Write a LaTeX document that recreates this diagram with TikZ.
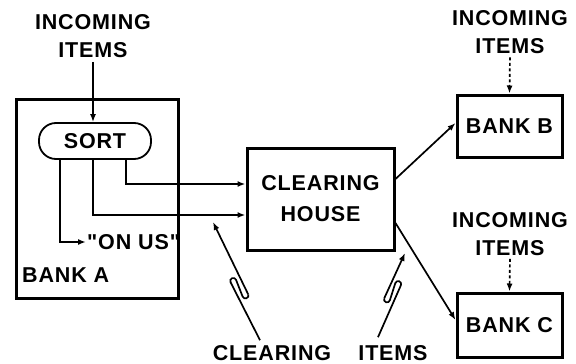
\documentclass[tikz,border=0pt]{standalone}
\usepackage{fontspec}
\setmainfont{Liberation Sans}[LetterSpace=4, Ligatures=TeXOff]
\usetikzlibrary{arrows.meta,calc}
\begin{document}
\begin{tikzpicture}[x=1pt,y=-1pt,
  lbl/.style={font=\bfseries\fontsize{21.5}{28}\selectfont, align=center, inner sep=0pt},
  box/.style={draw, line width=3pt, inner sep=0pt},
  arr/.style={line width=1.7pt, -{Latex[length=8pt,width=6pt]}},
  dasharr/.style={arr, dash pattern=on 3pt off 2.5pt},
  conn/.style={line width=1.7pt}
]
\useasboundingbox (0,0) rectangle (576,364);
% boxes
\node[box, minimum width=162pt, minimum height=199pt] (bankA) at (97,198.5) {};
\node[draw, line width=1.8pt, rounded corners=17pt, minimum width=112pt, minimum height=36pt, lbl] (sort) at (95,141) {SORT};
\node[box, lbl, font=\bfseries\fontsize{21.5}{31}\selectfont, minimum width=147pt, minimum height=102pt] (ch) at (320.5,199) {CLEARING\\HOUSE};
\node[box, lbl, minimum width=105pt, minimum height=62pt] (bankB) at (509.5,126) {BANK B};
\node[box, lbl, minimum width=105pt, minimum height=64pt] (bankC) at (509.5,325) {BANK C};
% labels
\node[lbl] (inA) at (93,36) {INCOMING\\ITEMS};
\node[lbl] (inB) at (510,32.5) {INCOMING\\ITEMS};
\node[lbl] (inC) at (510,234) {INCOMING\\ITEMS};
\node[lbl, anchor=west, inner sep=1pt] (onus) at (86,242) {"ON US"};
\node[lbl, anchor=west] (bankAl) at (22,275) {BANK A};
\node[lbl] (clr) at (272,353) {CLEARING};
\node[lbl] (itm) at (393,353) {ITEMS};
% connectors
\draw[arr, shorten <=4pt] (inA.south) -- (inA.south |- sort.north);
\draw[arr] ([xshift=31pt]sort.south) |- ([yshift=15pt]ch.west);
\draw[arr] ([xshift=-2pt]sort.south) |- ([yshift=-16pt]ch.west);
\draw[arr] ([xshift=-35pt]sort.south) |- (onus.west);
\draw[arr] ([yshift=20pt]ch.east) -- ([yshift=3pt]bankB.west);
\draw[arr] ([yshift=-24pt]ch.east) -- ([yshift=5pt]bankC.west);
\draw[dasharr, shorten <=3pt] (inB.south) -- (bankB.north);
\draw[dasharr, shorten <=3pt] (inC.south) -- (bankC.north);
% clip arrows
\coordinate (tipL) at (213,222);
\coordinate (sL) at ([xshift=-12pt,yshift=5pt]clr.north);
\coordinate (tipR) at (405,253);
\coordinate (sR) at ([xshift=-15pt,yshift=8pt]itm.north);
\begin{scope}[shift={($(sL)!0.44!(tipL)$)}, rotate=111.5, x=1pt, y=1pt]
  \draw[conn] (9,6) arc[start angle=90,end angle=-90,radius=3] -- (-9,0) arc[start angle=90,end angle=270,radius=3];
  \coordinate (La) at (9,6);
  \coordinate (Lb) at (-9,-6);
\end{scope}
\begin{scope}[shift={($(sR)!0.54!(tipR)$)}, rotate=72.4, x=1pt, y=1pt]
  \draw[conn] (9,-6) arc[start angle=-90,end angle=90,radius=3] -- (-9,0) arc[start angle=-90,end angle=-270,radius=3];
  \coordinate (Ra) at (9,-6);
  \coordinate (Rb) at (-9,6);
\end{scope}
\draw[conn] (sL) -- (La);
\draw[arr] (Lb) -- (tipL);
\draw[conn] (sR) -- (Ra);
\draw[arr] (Rb) -- (tipR);
\end{tikzpicture}
\end{document}
